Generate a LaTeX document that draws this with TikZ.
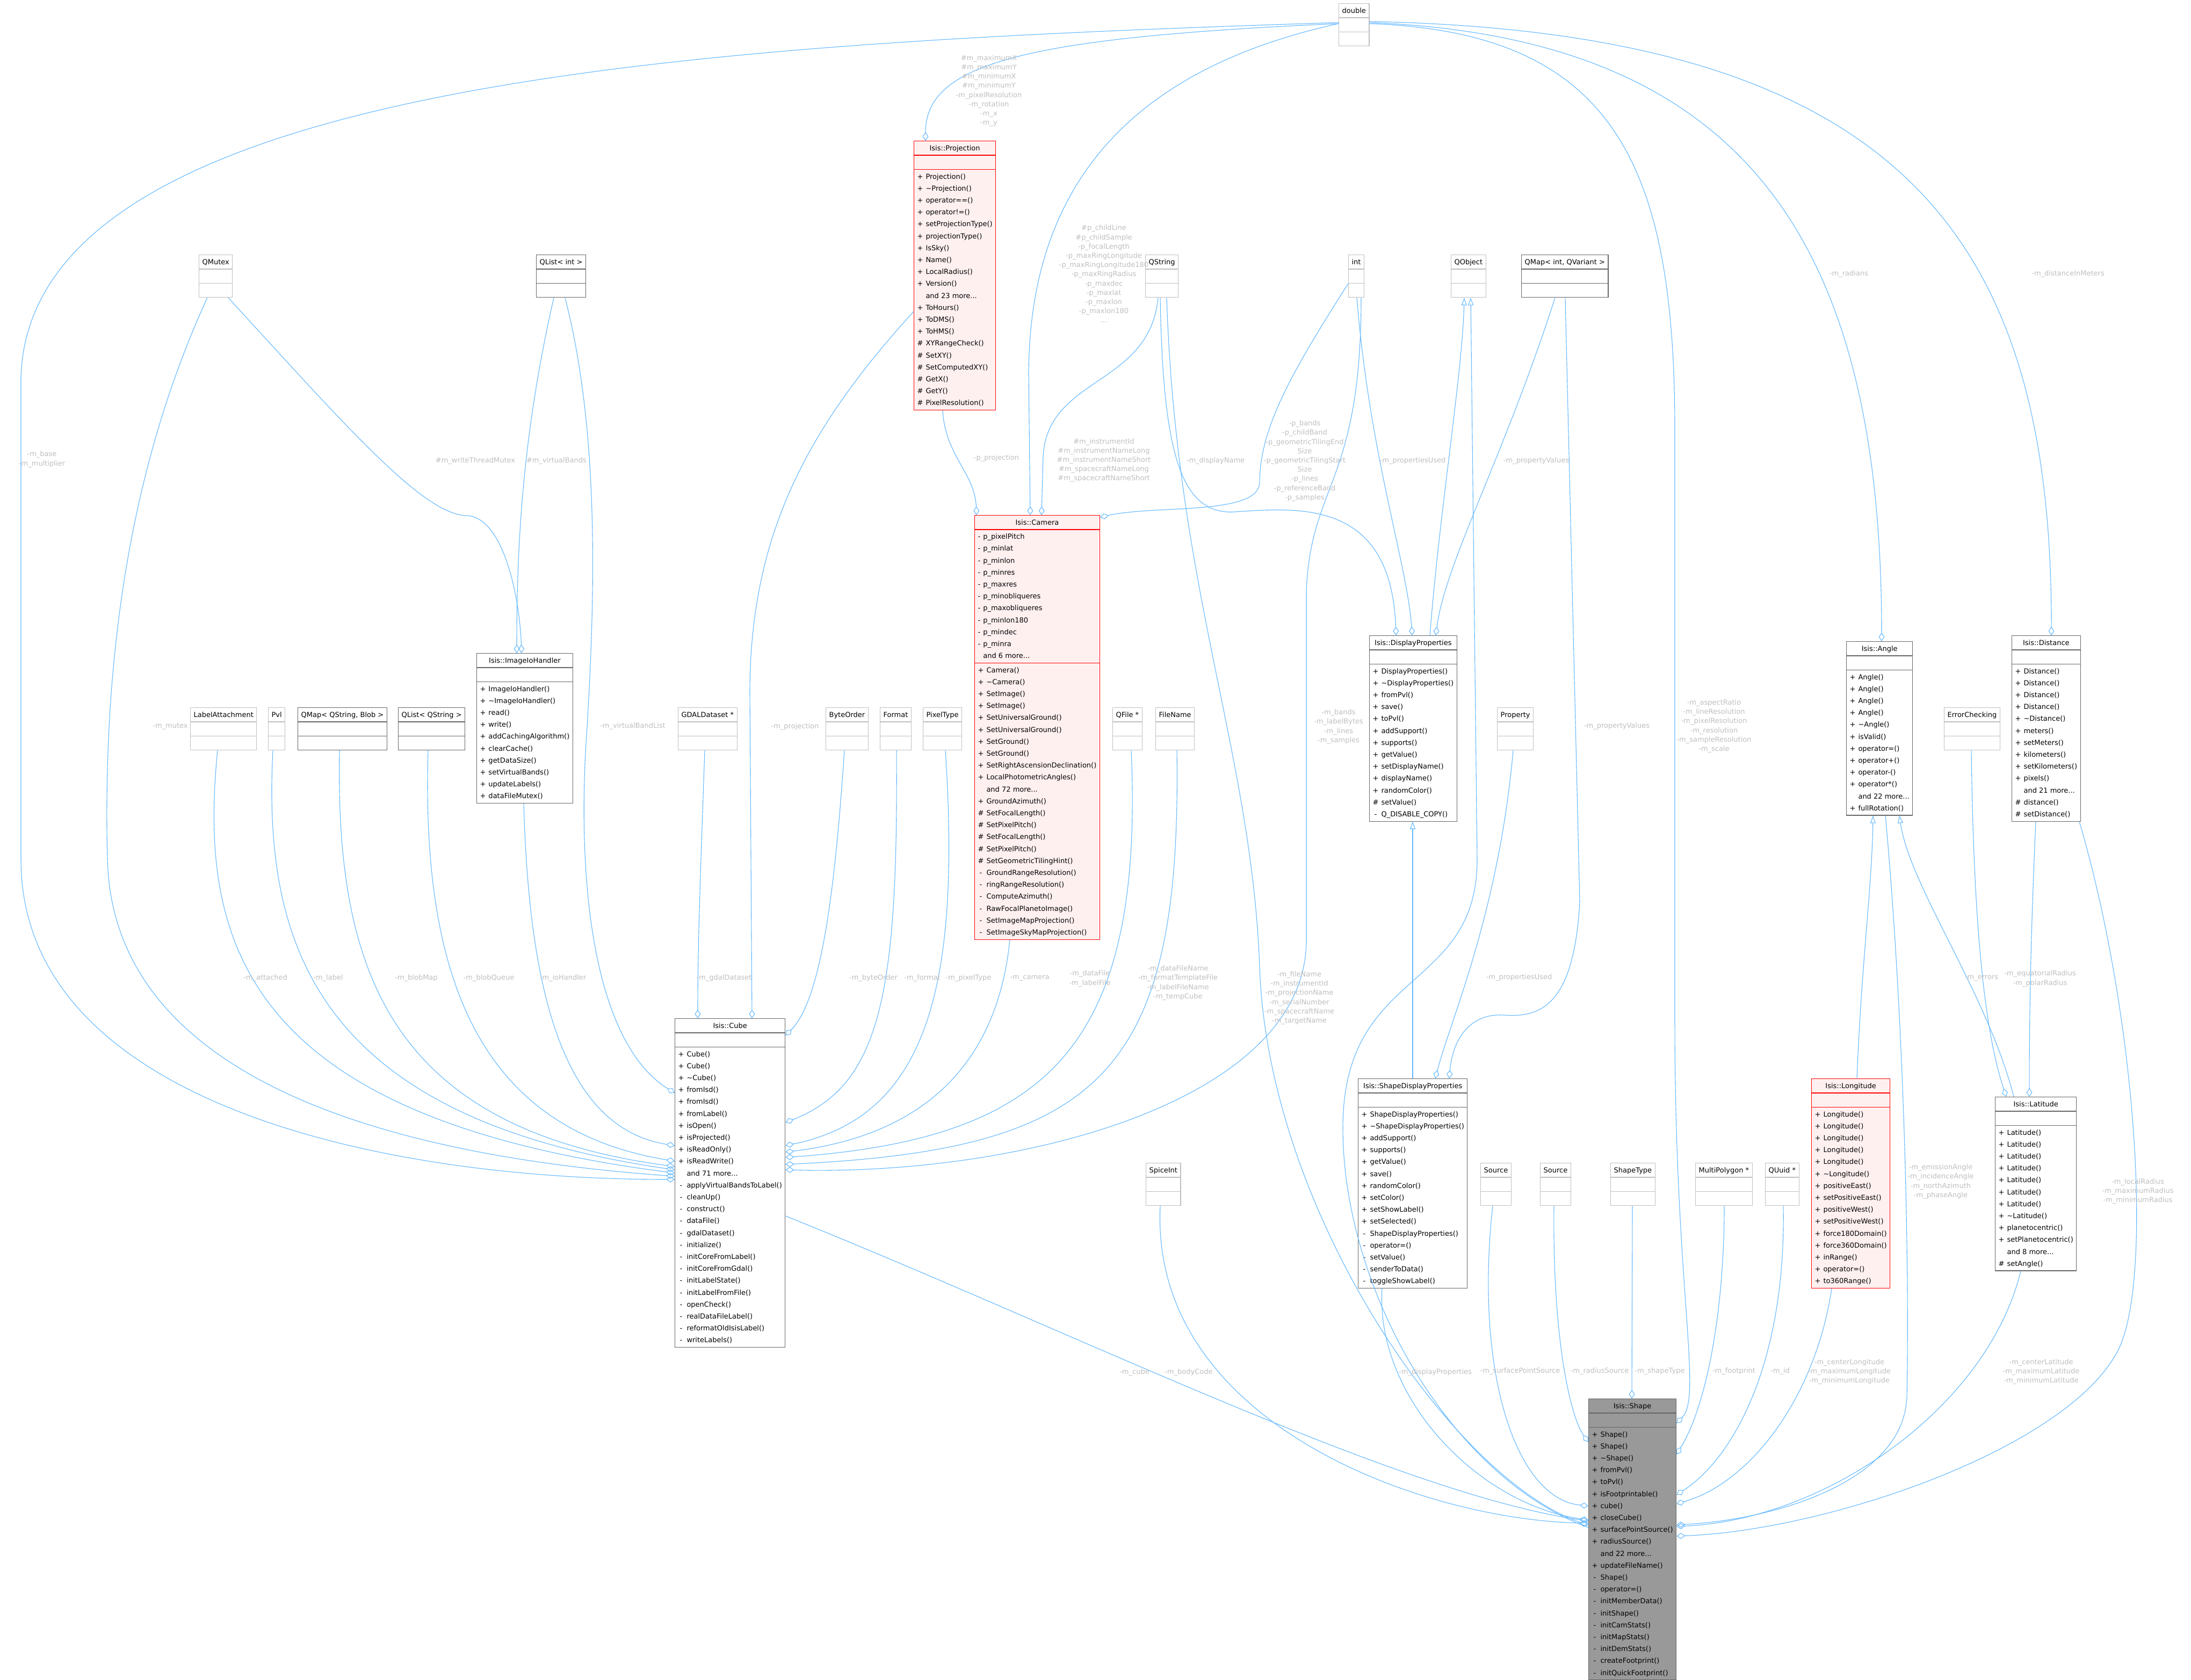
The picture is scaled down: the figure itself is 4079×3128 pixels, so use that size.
\documentclass[tikz,border=0pt]{standalone}
\usepackage{fontspec}
\setmainfont{DejaVu Sans}
\usetikzlibrary{shapes.multipart,arrows.meta}

\definecolor{edgeblue}{HTML}{63B8FF}
\definecolor{lblgray}{HTML}{BEBEBE}
\definecolor{undoccol}{HTML}{BFBFBF}
\definecolor{docgray}{HTML}{666666}
\definecolor{trunc}{HTML}{FF0000}
\definecolor{truncfill}{HTML}{FFF0F0}
\definecolor{focusfill}{HTML}{999999}

\newcommand\boxfont{\fontsize{13}{22.2}\selectfont}
\newcommand\lblfont{\fontsize{13}{17.2}\selectfont}
\newcommand\mlist[1]{\begin{tabular}{@{}c@{\hspace{5pt}}l@{}}#1\end{tabular}}

\tikzset{
  cls/.style={rectangle split, rectangle split parts=3,
    rectangle split part align={center,left,left},
    rectangle split empty part height=20pt, rectangle split empty part depth=0pt,
    draw=#1, fill=white, line width=1.2pt, inner xsep=6pt, inner ysep=1.5pt,
    anchor=north west, font=\boxfont, execute at begin node=\strut},
  cls/.default=docgray,
  ucls/.style={cls=undoccol},
  rcls/.style={cls=trunc, fill=truncfill},
  fcls/.style={cls=docgray, fill=focusfill},
  lbl/.style={font=\lblfont, text=lblgray, align=center, inner sep=0pt},
  aggr/.style={draw=edgeblue, line width=1.1pt, -{Diamond[open,length=16pt,width=11pt]}},
  inh/.style={draw=edgeblue, line width=1.1pt, -{Triangle[open,length=14pt,width=10pt]}},
}

\begin{document}
\begin{tikzpicture}[x=1pt,y=-1pt]
  \path[use as bounding box] (0,0) rectangle (4079,3128);

  % top row
  \node[ucls] (dbl) at (2492,6) {double\nodepart{two}\nodepart{three}};

  \node[rcls] (proj) at (1701,262) {Isis::Projection\nodepart{two}\nodepart{three}\mlist{
    + & Projection()\\ + & \textasciitilde Projection()\\ + & operator==()\\ + & operator!=()\\
    + & setProjectionType()\\ + & projectionType()\\ + & IsSky()\\ + & Name()\\
    + & LocalRadius()\\ + & Version()\\ & and 23 more...\\ + & ToHours()\\ + & ToDMS()\\
    + & ToHMS()\\ \# & XYRangeCheck()\\ \# & SetXY()\\ \# & SetComputedXY()\\
    \# & GetX()\\ \# & GetY()\\ \# & PixelResolution()}};

  % second row
  \node[ucls] (qmutex) at (370,474) {QMutex\nodepart{two}\nodepart{three}};
  \node[cls] (qlistint) at (998,474) {QList< int >\nodepart{two}\nodepart{three}};
  \node[ucls] (qstring) at (2132,474) {QString\nodepart{two}\nodepart{three}};
  \node[ucls] (int) at (2510,474) {int\nodepart{two}\nodepart{three}};
  \node[ucls] (qobject) at (2701,474) {QObject\nodepart{two}\nodepart{three}};
  \node[cls] (qmapintvar) at (2832,474) {QMap< int, QVariant >\nodepart{two}\nodepart{three}};

  % middle
  \node[cls] (ioh) at (887,1216) {Isis::ImageIoHandler\nodepart{two}\nodepart{three}\mlist{
    + & ImageIoHandler()\\ + & \textasciitilde ImageIoHandler()\\ + & read()\\ + & write()\\
    + & addCachingAlgorithm()\\ + & clearCache()\\ + & getDataSize()\\
    + & setVirtualBands()\\ + & updateLabels()\\ + & dataFileMutex()}};

  \node[rcls] (camera) at (1814,959) {Isis::Camera\nodepart{two}\mlist{
    - & p\_pixelPitch\\ - & p\_minlat\\ - & p\_minlon\\ - & p\_minres\\ - & p\_maxres\\
    - & p\_minobliqueres\\ - & p\_maxobliqueres\\ - & p\_minlon180\\ - & p\_mindec\\
    - & p\_minra\\ & and 6 more...}\nodepart{three}\mlist{
    + & Camera()\\ + & \textasciitilde Camera()\\ + & SetImage()\\ + & SetImage()\\
    + & SetUniversalGround()\\ + & SetUniversalGround()\\ + & SetGround()\\ + & SetGround()\\
    + & SetRightAscensionDeclination()\\ + & LocalPhotometricAngles()\\ & and 72 more...\\
    + & GroundAzimuth()\\ \# & SetFocalLength()\\ \# & SetPixelPitch()\\ \# & SetFocalLength()\\
    \# & SetPixelPitch()\\ \# & SetGeometricTilingHint()\\ - & GroundRangeResolution()\\
    - & ringRangeResolution()\\ - & ComputeAzimuth()\\ - & RawFocalPlanetoImage()\\
    - & SetImageMapProjection()\\ - & SetImageSkyMapProjection()}};

  \node[cls] (dispprop) at (2549,1183) {Isis::DisplayProperties\nodepart{two}\nodepart{three}\mlist{
    + & DisplayProperties()\\ + & \textasciitilde DisplayProperties()\\ + & fromPvl()\\ + & save()\\
    + & toPvl()\\ + & addSupport()\\ + & supports()\\ + & getValue()\\ + & setDisplayName()\\
    + & displayName()\\ + & randomColor()\\ \# & setValue()\\ - & Q\_DISABLE\_COPY()}};

  \node[cls] (angle) at (3437,1194) {Isis::Angle\nodepart{two}\nodepart{three}\mlist{
    + & Angle()\\ + & Angle()\\ + & Angle()\\ + & Angle()\\ + & \textasciitilde Angle()\\
    + & isValid()\\ + & operator=()\\ + & operator+()\\ + & operator-()\\ + & operator*()\\
    & and 22 more...\\ + & fullRotation()}};

  \node[cls] (distance) at (3745,1183) {Isis::Distance\nodepart{two}\nodepart{three}\mlist{
    + & Distance()\\ + & Distance()\\ + & Distance()\\ + & Distance()\\
    + & \textasciitilde Distance()\\ + & meters()\\ + & setMeters()\\ + & kilometers()\\
    + & setKilometers()\\ + & pixels()\\ & and 21 more...\\ \# & distance()\\ \# & setDistance()}};

  % third row
  \node[ucls] (labelatt) at (354,1317) {LabelAttachment\nodepart{two}\nodepart{three}};
  \node[ucls] (pvl) at (499,1317) {Pvl\nodepart{two}\nodepart{three}};
  \node[cls] (qmapblob) at (554,1317) {QMap< QString, Blob >\nodepart{two}\nodepart{three}};
  \node[cls] (qliststr) at (741,1317) {QList< QString >\nodepart{two}\nodepart{three}};
  \node[ucls] (gdal) at (1262,1317) {GDALDataset *\nodepart{two}\nodepart{three}};
  \node[ucls] (byteorder) at (1537,1317) {ByteOrder\nodepart{two}\nodepart{three}};
  \node[ucls] (format) at (1638,1317) {Format\nodepart{two}\nodepart{three}};
  \node[ucls] (pixeltype) at (1718,1317) {PixelType\nodepart{two}\nodepart{three}};
  \node[ucls] (qfile) at (2071,1317) {QFile *\nodepart{two}\nodepart{three}};
  \node[ucls] (filename) at (2151,1317) {FileName\nodepart{two}\nodepart{three}};
  \node[ucls] (property) at (2787,1317) {Property\nodepart{two}\nodepart{three}};
  \node[ucls] (errcheck) at (3619,1317) {ErrorChecking\nodepart{two}\nodepart{three}};

  % lower classes
  \node[cls] (cube) at (1256,1896) {Isis::Cube\nodepart{two}\nodepart{three}\mlist{
    + & Cube()\\ + & Cube()\\ + & \textasciitilde Cube()\\ + & fromIsd()\\ + & fromIsd()\\
    + & fromLabel()\\ + & isOpen()\\ + & isProjected()\\ + & isReadOnly()\\ + & isReadWrite()\\
    & and 71 more...\\ - & applyVirtualBandsToLabel()\\ - & cleanUp()\\ - & construct()\\
    - & dataFile()\\ - & gdalDataset()\\ - & initialize()\\ - & initCoreFromLabel()\\
    - & initCoreFromGdal()\\ - & initLabelState()\\ - & initLabelFromFile()\\ - & openCheck()\\
    - & realDataFileLabel()\\ - & reformatOldIsisLabel()\\ - & writeLabels()}};

  \node[cls] (sdp) at (2528,2008) {Isis::ShapeDisplayProperties\nodepart{two}\nodepart{three}\mlist{
    + & ShapeDisplayProperties()\\ + & \textasciitilde ShapeDisplayProperties()\\ + & addSupport()\\
    + & supports()\\ + & getValue()\\ + & save()\\ + & randomColor()\\ + & setColor()\\
    + & setShowLabel()\\ + & setSelected()\\ - & ShapeDisplayProperties()\\ - & operator=()\\
    - & setValue()\\ - & senderToData()\\ - & toggleShowLabel()}};

  \node[rcls] (longitude) at (3372,2008) {Isis::Longitude\nodepart{two}\nodepart{three}\mlist{
    + & Longitude()\\ + & Longitude()\\ + & Longitude()\\ + & Longitude()\\ + & Longitude()\\
    + & \textasciitilde Longitude()\\ + & positiveEast()\\ + & setPositiveEast()\\
    + & positiveWest()\\ + & setPositiveWest()\\ + & force180Domain()\\ + & force360Domain()\\
    + & inRange()\\ + & operator=()\\ + & to360Range()}};

  \node[cls] (latitude) at (3714,2042) {Isis::Latitude\nodepart{two}\nodepart{three}\mlist{
    + & Latitude()\\ + & Latitude()\\ + & Latitude()\\ + & Latitude()\\ + & Latitude()\\
    + & Latitude()\\ + & Latitude()\\ + & \textasciitilde Latitude()\\ + & planetocentric()\\
    + & setPlanetocentric()\\ & and 8 more...\\ \# & setAngle()}};

  \node[ucls] (spiceint) at (2133,2165) {SpiceInt\nodepart{two}\nodepart{three}};
  \node[ucls] (source1) at (2756,2165) {Source\nodepart{two}\nodepart{three}};
  \node[ucls] (source2) at (2867,2165) {Source\nodepart{two}\nodepart{three}};
  \node[ucls] (shapetype) at (2998,2165) {ShapeType\nodepart{two}\nodepart{three}};
  \node[ucls] (multipoly) at (3156,2165) {MultiPolygon *\nodepart{two}\nodepart{three}};
  \node[ucls] (quuid) at (3286,2165) {QUuid *\nodepart{two}\nodepart{three}};

  \node[fcls] (shape) at (2957,2604) {Isis::Shape\nodepart{two}\nodepart{three}\mlist{
    + & Shape()\\ + & Shape()\\ + & \textasciitilde Shape()\\ + & fromPvl()\\ + & toPvl()\\
    + & isFootprintable()\\ + & cube()\\ + & closeCube()\\ + & surfacePointSource()\\
    + & radiusSource()\\ & and 22 more...\\ + & updateFileName()\\ - & Shape()\\
    - & operator=()\\ - & initMemberData()\\ - & initShape()\\ - & initCamStats()\\
    - & initMapStats()\\ - & initDemStats()\\ - & createFootprint()\\ - & initQuickFootprint()}};

  % edges from double
  \draw[aggr] ([yshift=-36]dbl.north west) .. controls (1300,80) and (60,150) .. (39,700)
    -- (39,1600) .. controls (39,2050) and (700,2196) .. ([yshift=-300]cube.north west);
  \draw[aggr] ([yshift=-38]dbl.north west) .. controls (1900,70) and (1723,120) .. ([xshift=22]proj.north west);
  \draw[aggr] ([yshift=-38]dbl.north west) .. controls (2100,130) and (1915,350) .. (1915,700)
    -- ([xshift=104]camera.north west);
  \draw[aggr] ([yshift=-38]dbl.north east) .. controls (3000,60) and (3118,300) .. (3118,800)
    -- (3118,1900) .. controls (3118,2400) and (3170,2600) .. ([yshift=-46]shape.north east);
  \draw[aggr] ([yshift=-36]dbl.north east) .. controls (3250,70) and (3503,450) .. ([xshift=66]angle.north west);
  \draw[aggr] ([yshift=-34]dbl.north east) .. controls (3550,60) and (3820,450) .. ([xshift=74]distance.north west);

  % into Isis::ImageIoHandler
  \draw[aggr] ([xshift=55]qmutex.south west) .. controls (650,800) and (790,960) .. (870,960)
    .. controls (940,965) and (968,1120) .. ([xshift=84]ioh.north west);
  \draw[aggr] ([xshift=33]qlistint.south west) .. controls (975,800) and (962,1000) .. ([xshift=75]ioh.north west);

  % into Isis::Cube, left side
  \draw[aggr] ([xshift=16]qmutex.south west) .. controls (250,850) and (190,1200) .. (200,1600)
    .. controls (210,2000) and (700,2150) .. ([yshift=-294]cube.north west);
  \draw[aggr] ([xshift=51]labelatt.south west) .. controls (370,1750) and (450,2080) .. ([yshift=-288]cube.north west);
  \draw[aggr] ([xshift=9]pvl.south west) .. controls (490,1750) and (580,2080) .. ([yshift=-282]cube.north west);
  \draw[aggr] ([xshift=78]qmapblob.south west) .. controls (625,1800) and (720,2100) .. ([yshift=-276]cube.north west);
  \draw[aggr] ([xshift=56]qliststr.south west) .. controls (785,1800) and (880,2100) .. ([yshift=-266]cube.north west);
  \draw[aggr] ([xshift=88]ioh.south west) .. controls (985,1850) and (1050,2100) .. ([yshift=-237]cube.north west);
  \draw[aggr] ([xshift=54]qlistint.south west) .. controls (1115,800) and (1110,1100) .. (1090,1400)
    .. controls (1075,1700) and (1120,1950) .. ([yshift=-139]cube.north west);

  % into Isis::Cube, top and right side
  \draw[aggr] ([xshift=50]gdal.south west) .. controls (1305,1600) and (1299,1750) .. ([xshift=43]cube.north west);
  \draw[aggr] ([yshift=-318]proj.north west) .. controls (1500,800) and (1396,1000) .. (1396,1290)
    -- ([xshift=144]cube.north west);
  \draw[aggr] ([xshift=35]byteorder.south west) .. controls (1555,1650) and (1530,1860) .. ([yshift=-32]cube.north east);
  \draw[aggr] ([xshift=31]format.south west) .. controls (1672,1850) and (1640,2020) .. ([yshift=-194]cube.north east);
  \draw[aggr] ([xshift=42]pixeltype.south west) .. controls (1790,1850) and (1720,2080) .. ([yshift=-237]cube.north east);
  \draw[aggr] ([xshift=66]camera.south west) .. controls (1860,1950) and (1750,2110) .. ([yshift=-249]cube.north east);
  \draw[aggr] ([xshift=35]qfile.south west) .. controls (2130,1950) and (1950,2120) .. ([yshift=-259]cube.north east);
  \draw[aggr] ([xshift=40]filename.south west) .. controls (2200,2000) and (2050,2140) .. ([yshift=-272]cube.north east);
  \draw[aggr] ([xshift=24]int.south west) .. controls (2534,900) and (2440,900) .. (2432,1100)
    -- (2432,1750) .. controls (2432,2050) and (1900,2190) .. ([yshift=-282]cube.north east);

  % into Isis::Camera
  \draw[aggr] ([xshift=54]proj.south west) .. controls (1760,850) and (1815,880) .. ([xshift=4]camera.north west);
  \draw[aggr] ([xshift=24]qstring.south west) .. controls (2140,720) and (1950,700) .. (1942,850)
    -- ([xshift=125]camera.north west);
  \draw[aggr] ([yshift=-54]int.north west) .. controls (2400,700) and (2345,800) .. (2345,900)
    .. controls (2340,960) and (2150,940) .. ([yshift=-4]camera.north east);

  % into Isis::DisplayProperties
  \draw[aggr] ([xshift=28]qstring.south west) .. controls (2165,850) and (2200,960) .. (2300,953)
    .. controls (2420,945) and (2590,930) .. ([xshift=50]dispprop.north west);
  \draw[aggr] ([xshift=16]int.south west) .. controls (2550,850) and (2620,1050) .. ([xshift=80]dispprop.north west);
  \draw[aggr] ([xshift=63]qmapintvar.south west) .. controls (2800,850) and (2690,1050) .. ([xshift=124]dispprop.north west);
  \draw[inh] ([xshift=113]dispprop.north west) .. controls (2680,950) and (2722,700) .. ([xshift=25]qobject.south west);

  % into Isis::ShapeDisplayProperties
  \draw[inh] ([xshift=102]sdp.north west) -- ([xshift=81]dispprop.south west);
  \draw[aggr] ([xshift=30]property.south west) .. controls (2790,1700) and (2700,1900) .. ([xshift=144]sdp.north west);
  \draw[aggr] ([xshift=82]qmapintvar.south west) -- (2941,1680) .. controls (2930,1870) and (2870,1895) .. (2800,1890)
    .. controls (2740,1886) and (2705,1930) .. ([xshift=170]sdp.north west);

  % into Isis::Latitude and Isis::Longitude
  \draw[inh] ([xshift=35]latitude.north west) .. controls (3700,1850) and (3555,1650) .. ([xshift=99]angle.south west);
  \draw[inh] ([xshift=85]longitude.north west) .. controls (3465,1800) and (3485,1650) .. ([xshift=50]angle.south west);
  \draw[aggr] ([xshift=51]errcheck.south west) .. controls (3675,1800) and (3705,1950) .. ([xshift=21]latitude.north west);
  \draw[aggr] ([xshift=45]distance.south west) .. controls (3780,1750) and (3778,1900) .. ([xshift=64]latitude.north west);

  % into Isis::Shape
  \draw[aggr] ([yshift=-368]cube.north east) .. controls (2000,2480) and (2600,2780) .. ([yshift=-228]shape.north west);
  \draw[aggr] ([xshift=27]spiceint.south west) .. controls (2140,2650) and (2650,2830) .. ([yshift=-232]shape.north west);
  \draw[aggr] ([xshift=40]qstring.south west) .. controls (2190,1100) and (2330,1400) .. (2345,1800)
    .. controls (2360,2250) and (2700,2750) .. ([yshift=-236]shape.north west);
  \draw[inh] ([yshift=-240]shape.north west) .. controls (2700,2750) and (2500,2400) .. (2500,2100)
    .. controls (2500,1800) and (2750,1850) .. (2750,1600) -- ([xshift=37]qobject.south west);
  \draw[aggr] ([xshift=45]sdp.south west) .. controls (2560,2600) and (2750,2800) .. ([yshift=-226]shape.north west);
  \draw[aggr] ([xshift=23]source1.south west) .. controls (2745,2550) and (2820,2790) .. ([yshift=-200]shape.north west);
  \draw[aggr] ([xshift=26]source2.south west) .. controls (2890,2500) and (2925,2640) .. ([yshift=-81]shape.north west);
  \draw[aggr] ([xshift=41]shapetype.south west) -- ([xshift=81]shape.north west);
  \draw[aggr] ([xshift=54]multipoly.south west) .. controls (3210,2450) and (3175,2620) .. ([yshift=-104]shape.north east);
  \draw[aggr] ([xshift=34]quuid.south west) .. controls (3325,2550) and (3220,2720) .. ([yshift=-179]shape.north east);
  \draw[aggr] ([xshift=38]longitude.south west) .. controls (3380,2600) and (3260,2760) .. ([yshift=-196]shape.north east);
  \draw[aggr] ([xshift=73]angle.south west) .. controls (3545,1900) and (3555,2350) .. (3550,2600)
    .. controls (3545,2760) and (3300,2830) .. ([yshift=-235]shape.north east);
  \draw[aggr] ([xshift=48]latitude.south west) .. controls (3700,2620) and (3400,2830) .. ([yshift=-238]shape.north east);
  \draw[aggr] ([xshift=126]distance.south west) .. controls (3980,1900) and (4010,2400) .. (3940,2520)
    .. controls (3840,2700) and (3400,2850) .. ([yshift=-256]shape.north east);

  % edge labels
  \node[lbl] (lbase) at (78,855) {-m\_base\\-m\_multiplier};
  \node[lbl] (lxy) at (1841,169) {\#m\_maximumX\\\#m\_maximumY\\\#m\_minimumX\\\#m\_minimumY\\-m\_pixelResolution\\-m\_rotation\\-m\_x\\-m\_y};
  \node[lbl] (lchild) at (2055,510) {\#p\_childLine\\\#p\_childSample\\-p\_focalLength\\-p\_maxRingLongitude\\-p\_maxRingLongitude180\\-p\_maxRingRadius\\-p\_maxdec\\-p\_maxlat\\-p\_maxlon\\-p\_maxlon180\\...};
  \node[lbl] (lres) at (3191,1352) {-m\_aspectRatio\\-m\_lineResolution\\-m\_pixelResolution\\-m\_resolution\\-m\_sampleResolution\\-m\_scale};
  \node[lbl] (lrad) at (3442,510) {-m\_radians};
  \node[lbl] (ldist) at (3850,510) {-m\_distanceInMeters};
  \node[lbl] (lmutex) at (317,1352) {-m\_mutex};
  \node[lbl] (lwtm) at (885,858) {\#m\_writeThreadMutex};
  \node[lbl] (lvb) at (1036,858) {\#m\_virtualBands};
  \node[lbl] (lvbl) at (1178,1352) {-m\_virtualBandList};
  \node[lbl] (lproj) at (1480,1353) {-m\_projection};
  \node[lbl] (latt) at (494,1821) {-m\_attached};
  \node[lbl] (llabel) at (611,1821) {-m\_label};
  \node[lbl] (lblobmap) at (775,1821) {-m\_blobMap};
  \node[lbl] (lblobq) at (910,1821) {-m\_blobQueue};
  \node[lbl] (lioh) at (1048,1821) {-m\_ioHandler};
  \node[lbl] (lgdal) at (1348,1821) {-m\_gdalDataset};
  \node[lbl] (lbyte) at (1626,1821) {-m\_byteOrder};
  \node[lbl] (lformat) at (1717,1821) {-m\_format};
  \node[lbl] (lpix) at (1803,1821) {-m\_pixelType};
  \node[lbl] (lcam) at (1917,1821) {-m\_camera};
  \node[lbl] (lfile) at (2029,1822) {-m\_dataFile\\-m\_labelFile};
  \node[lbl] (lfname) at (2193,1830) {-m\_dataFileName\\-m\_formatTemplateFile\\-m\_labelFileName\\-m\_tempCube};
  \node[lbl] (lbands) at (2492,1353) {-m\_bands\\-m\_labelBytes\\-m\_lines\\-m\_samples};
  \node[lbl] (lstr) at (2419,1858) {-m\_fileName\\-m\_instrumentId\\-m\_projectionName\\-m\_serialNumber\\-m\_spacecraftName\\-m\_targetName};
  \node[lbl] (lpproj) at (1855,853) {-p\_projection};
  \node[lbl] (linstr) at (2055,857) {\#m\_instrumentId\\\#m\_instrumentNameLong\\\#m\_instrumentNameShort\\\#m\_spacecraftNameLong\\\#m\_spacecraftNameShort};
  \node[lbl] (lpbands) at (2429,858) {-p\_bands\\-p\_childBand\\-p\_geometricTilingEnd\\Size\\-p\_geometricTilingStart\\Size\\-p\_lines\\-p\_referenceBand\\-p\_samples};
  \node[lbl] (ldname) at (2263,858) {-m\_displayName};
  \node[lbl] (lpused) at (2630,858) {-m\_propertiesUsed};
  \node[lbl] (lpval) at (2860,858) {-m\_propertyValues};
  \node[lbl] (lpval2) at (3010,1352) {-m\_propertyValues};
  \node[lbl] (lpused2) at (2828,1820) {-m\_propertiesUsed};
  \node[lbl] (lerr) at (3689,1821) {-m\_errors};
  \node[lbl] (leqr) at (3798,1822) {-m\_equatorialRadius\\-m\_polarRadius};
  \node[lbl] (lang) at (3613,2200) {-m\_emissionAngle\\-m\_incidenceAngle\\-m\_northAzimuth\\-m\_phaseAngle};
  \node[lbl] (lrrad) at (3980,2218) {-m\_localRadius\\-m\_maximumRadius\\-m\_minimumRadius};
  \node[lbl] (lcube) at (2112,2555) {-m\_cube};
  \node[lbl] (lbody) at (2213,2555) {-m\_bodyCode};
  \node[lbl] (ldisp) at (2672,2555) {-m\_displayProperties};
  \node[lbl] (lsps) at (2830,2553) {-m\_surfacePointSource};
  \node[lbl] (lrs) at (2978,2553) {-m\_radiusSource};
  \node[lbl] (lst) at (3090,2553) {-m\_shapeType};
  \node[lbl] (lfp) at (3228,2553) {-m\_footprint};
  \node[lbl] (lid) at (3314,2553) {-m\_id};
  \node[lbl] (llon) at (3443,2554) {-m\_centerLongitude\\-m\_maximumLongitude\\-m\_minimumLongitude};
  \node[lbl] (llat) at (3800,2554) {-m\_centerLatitude\\-m\_maximumLatitude\\-m\_minimumLatitude};
\end{tikzpicture}
\end{document}
